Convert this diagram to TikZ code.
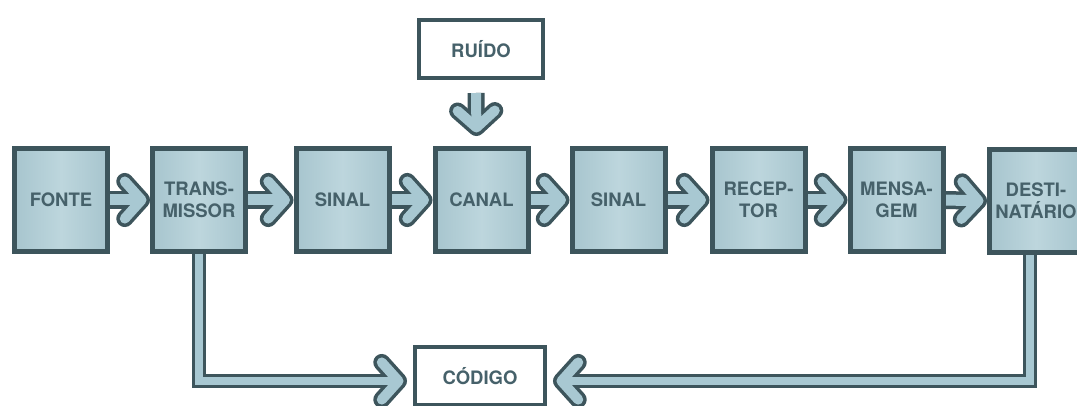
\documentclass[tikz,border=0pt]{standalone}
\usepackage{fontspec}
\setmainfont{TeX Gyre Heros}
\usetikzlibrary{calc,backgrounds}

\definecolor{ink}{HTML}{3D555C}
\definecolor{txt}{HTML}{46616A}
\definecolor{boxedge}{HTML}{A7C5CE}
\definecolor{boxmid}{HTML}{BDD6DD}
\definecolor{pipe}{HTML}{A8C8D2}

\tikzset{
  labelfont/.style={font=\bfseries\fontsize{18.5}{21.5}\selectfont},
  stage/.style={draw=ink, line width=5pt, minimum width=93pt, minimum height=103pt,
    left color=boxedge, right color=boxedge, middle color=boxmid,
    text=txt, labelfont, align=center, inner sep=0pt},
  tagbox/.style={draw=ink, line width=4pt, fill=white, minimum height=58pt,
    text=txt, labelfont, inner sep=0pt},
  pipe out/.style={draw=ink, line width=#1},
  pipe in/.style={draw=pipe, line width=#1},
  head out/.style={draw=ink, line width=17pt, line cap=round, line join=round},
  head in/.style={draw=pipe, line width=10pt, line cap=round, line join=round},
}

% chevron head: vertex just behind the tip, two arms swept back
\newcommand\pipehead[2]{%
  \coordinate (ph-v) at ($(#1)!8.5pt!(#2)$);
  \coordinate (ph-a) at ($(ph-v)!25pt!48:(#2)$);
  \coordinate (ph-b) at ($(ph-v)!25pt!-48:(#2)$);
}
% straight hollow arrow: #1 outer width, #2 inner width, #3 start, #4 tip
\newcommand\fatarrow[4]{%
  \pipehead{#4}{#3}
  \draw[pipe out=#1] (#3) -- (ph-v);
  \draw[head out] (ph-a) -- (ph-v) -- (ph-b);
  \draw[pipe in=#2, shorten >=4pt] (#3) -- (ph-v);
  \draw[head in] (ph-a) -- (ph-v) -- (ph-b);
}
% hollow arrow going down first, then sideways to the tip
\newcommand\fatelbow[4]{%
  \coordinate (el-c) at (#3 |- #4);
  \pipehead{#4}{el-c}
  \draw[pipe out=#1, line join=miter] (#3) -- (el-c) -- (ph-v);
  \draw[head out] (ph-a) -- (ph-v) -- (ph-b);
  \draw[pipe in=#2, line join=miter, shorten >=4pt] (#3) -- (el-c) -- (ph-v);
  \draw[head in] (ph-a) -- (ph-v) -- (ph-b);
}

\begin{document}
\begin{tikzpicture}[x=1pt, y=-1pt]
  \useasboundingbox (0,0) rectangle (1077,406);
  \clip (0,0) rectangle (1077,406);

  % main chain
  \node[stage] (fonte)    at (61,200)    {FONTE};
  \node[stage] (trans)    at (199,200)   {TRANS-\\MISSOR};
  \node[stage] (sinal1)   at (342.5,200) {SINAL};
  \node[stage] (canal)    at (481.5,200) {CANAL};
  \node[stage] (sinal2)   at (618.5,200) {SINAL};
  \node[stage] (receptor) at (758.5,200) {RECEP-\\TOR};
  \node[stage] (mensagem) at (896.5,200) {MENSA-\\GEM};
  \node[stage] (dest)     at (1036,201)  {DESTI-\\NATÁRIO};

  % side boxes
  \node[tagbox, minimum width=124pt] (ruido)  at (481,49)  {RUÍDO};
  \node[tagbox, minimum width=130pt] (codigo) at (480,376) {CÓDIGO};

  \begin{pgfonlayer}{background}
    \fatarrow{18pt}{11pt}{fonte.east}{trans.west}
    \fatarrow{18pt}{11pt}{trans.east}{sinal1.west}
    \fatarrow{18pt}{11pt}{sinal1.east}{canal.west}
    \fatarrow{18pt}{11pt}{canal.east}{sinal2.west}
    \fatarrow{18pt}{11pt}{sinal2.east}{receptor.west}
    \fatarrow{18pt}{11pt}{receptor.east}{mensagem.west}
    \fatarrow{18pt}{11pt}{mensagem.east}{dest.west}

    % noise entering the channel
    \coordinate (noise-from) at ($(ruido.south)+(-5,13)$);
    \coordinate (noise-to)   at ($(canal.north)+(-5,-10)$);
    \fatarrow{17pt}{10pt}{noise-from}{noise-to}

    % shared code, from transmitter and receiver side
    \coordinate (code-l) at ($(codigo.west)+(-6,5)$);
    \coordinate (code-r) at ($(codigo.east)+(6,5)$);
    \coordinate (dest-foot) at ($(dest.south)+(-6,0)$);
    \fatelbow{14pt}{8pt}{trans.south}{code-l}
    \fatelbow{14pt}{8pt}{dest-foot}{code-r}
  \end{pgfonlayer}
\end{tikzpicture}
\end{document}
